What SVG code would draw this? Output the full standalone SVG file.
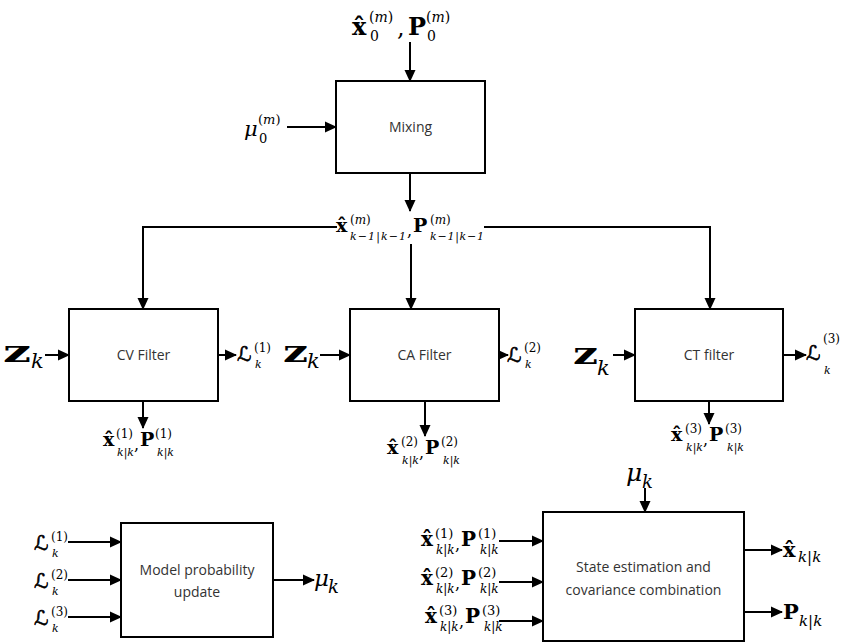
<svg xmlns="http://www.w3.org/2000/svg" width="848" height="644" viewBox="0 0 848 644">
<style>
.box{fill:#fff;stroke:#000;stroke-width:2}
.t{font-family:"Open Sans","Liberation Sans",sans-serif;font-size:14px;fill:#333;text-anchor:middle}
.m text{font-family:"DejaVu Serif","Liberation Serif",serif;fill:#000}
.m .b{font-weight:bold}
.m .i{font-style:italic}
.m .cal{font-family:"DejaVu Sans","DejaVu Serif",sans-serif;font-style:italic;stroke:#000;stroke-width:0.6}
.c{fill:none;stroke:#000;stroke-width:2}
</style>
<defs>
<marker id="ah" markerWidth="12" markerHeight="12" refX="11" refY="6" orient="auto" markerUnits="userSpaceOnUse">
<path d="M0,0.5 L12,6 L0,11.5 z" fill="#000"/>
</marker>
</defs>

<g id="connectors" class="c" marker-end="url(#ah)">
<path d="M410,42 V81"/>
<path d="M287,127 H336"/>
<path d="M410,173 V211"/>
<path d="M337,227 H143 V309"/>
<path d="M411,244 V309"/>
<path d="M484,227 H710 V309"/>
<path d="M45,355 H69"/>
<path d="M320,355 H350"/>
<path d="M613,355 H635"/>
<path d="M218,355 H236"/>
<path d="M499,355 H508"/>
<path d="M783,355 H806"/>
<path d="M143,401 V428"/>
<path d="M425,401 V436"/>
<path d="M709,401 V424"/>
<path d="M68,542 H121"/>
<path d="M68,580 H121"/>
<path d="M68,617 H121"/>
<path d="M273,580 H314"/>
<path d="M645,488 V512"/>
<path d="M499,541 H543"/>
<path d="M499,582 H543"/>
<path d="M499,621 H543"/>
<path d="M744,550 H782"/>
<path d="M744,612 H782"/>
</g>

<g id="mixing"><rect class="box" x="336" y="81" width="149" height="92"/><text class="t" x="410.5" y="132">Mixing</text></g>
<g id="cv"><rect class="box" x="69" y="309" width="149" height="92"/><text class="t" x="143.5" y="360">CV Filter</text></g>
<g id="ca"><rect class="box" x="350" y="309" width="149" height="92"/><text class="t" x="424.5" y="360">CA Filter</text></g>
<g id="ct"><rect class="box" x="635" y="309" width="148" height="92"/><text class="t" x="709" y="360">CT filter</text></g>
<g id="mpu"><rect class="box" x="121" y="523" width="152" height="114"/><text class="t" x="197" y="575">Model probability</text><text class="t" x="197" y="597">update</text></g>
<g id="se"><rect class="box" x="543" y="512" width="201" height="129"/><text class="t" x="643.5" y="572">State estimation and</text><text class="t" x="643.5" y="595">covariance combination</text></g>

<g id="lbl-init" class="m">
<text x="352" y="35" class="b" font-size="24">x&#x302;</text>
<text x="369" y="22" font-size="14">(<tspan class="i">m</tspan>)</text>
<text x="370" y="41" font-size="14">0</text>
<text x="397" y="36" font-size="24">,</text>
<text x="408" y="35" class="b" font-size="24">P</text>
<text x="426" y="22" font-size="14">(<tspan class="i">m</tspan>)</text>
<text x="427" y="41" font-size="14">0</text>
</g>
<g id="lbl-mu0" class="m">
<text x="244" y="136" class="i" font-size="21">μ</text>
<text x="258" y="124" font-size="13">(<tspan class="i">m</tspan>)</text>
<text x="259" y="143" font-size="13">0</text>
</g>
<g id="lbl-mixed" class="m">
<text x="336" y="232" class="b" font-size="19">x&#x302;</text>
<text x="350" y="224" font-size="12">(<tspan class="i">m</tspan>)</text>
<text x="350" y="240" class="i" font-size="11" textLength="56">k−1|k−1</text>
<text x="407" y="236" font-size="16">,</text>
<text x="413" y="232" class="b" font-size="19">P</text>
<text x="430" y="224" font-size="12">(<tspan class="i">m</tspan>)</text>
<text x="430" y="240" class="i" font-size="11" textLength="54">k−1|k−1</text>
</g>

<g id="lbl-z" class="m">
<text x="3" y="362" class="b" font-size="29" textLength="28" lengthAdjust="spacingAndGlyphs">z</text>
<text x="31" y="368" class="i" font-size="21">k</text>
<text x="283" y="362" class="b" font-size="29" textLength="25" lengthAdjust="spacingAndGlyphs">z</text>
<text x="307" y="368" class="i" font-size="21">k</text>
<text x="573" y="364" class="b" font-size="29" textLength="25" lengthAdjust="spacingAndGlyphs">z</text>
<text x="597" y="375" class="i" font-size="21">k</text>
</g>

<g id="lbl-L" class="m">
<text x="237" y="361" class="cal" font-size="20">ℒ</text>
<text x="254" y="352" font-size="12">(1)</text>
<text x="255" y="368" class="i" font-size="11">k</text>
<text x="507" y="362" class="cal" font-size="20">ℒ</text>
<text x="524" y="352" font-size="12">(2)</text>
<text x="525" y="368" class="i" font-size="11">k</text>
<text x="806" y="360" class="cal" font-size="20">ℒ</text>
<text x="823" y="343" font-size="12">(3)</text>
<text x="824" y="374" class="i" font-size="11">k</text>
</g>

<g id="lbl-out1" class="m">
<text x="103" y="446" class="b" font-size="19">x&#x302;</text>
<text x="116" y="438" font-size="12">(1)</text>
<text x="117" y="456" class="i" font-size="11">k|k</text>
<text x="134" y="450" font-size="16">,</text>
<text x="140" y="446" class="b" font-size="19">P</text>
<text x="155" y="438" font-size="12">(1)</text>
<text x="157" y="456" class="i" font-size="11">k|k</text>
</g>
<g id="lbl-out2" class="m">
<text x="387" y="454" class="b" font-size="19">x&#x302;</text>
<text x="401" y="446" font-size="12">(2)</text>
<text x="402" y="464" class="i" font-size="11">k|k</text>
<text x="419" y="458" font-size="16">,</text>
<text x="425" y="454" class="b" font-size="19">P</text>
<text x="441" y="446" font-size="12">(2)</text>
<text x="443" y="464" class="i" font-size="11">k|k</text>
</g>
<g id="lbl-out3" class="m">
<text x="671" y="441" class="b" font-size="19">x&#x302;</text>
<text x="685" y="433" font-size="12">(3)</text>
<text x="686" y="451" class="i" font-size="11">k|k</text>
<text x="703" y="445" font-size="16">,</text>
<text x="709" y="441" class="b" font-size="19">P</text>
<text x="725" y="433" font-size="12">(3)</text>
<text x="727" y="451" class="i" font-size="11">k|k</text>
</g>

<g id="lbl-mpu-in" class="m">
<text x="34" y="550" class="cal" font-size="20">ℒ</text>
<text x="51" y="541" font-size="12">(1)</text>
<text x="52" y="557" class="i" font-size="11">k</text>
<text x="34" y="588" class="cal" font-size="20">ℒ</text>
<text x="51" y="579" font-size="12">(2)</text>
<text x="52" y="595" class="i" font-size="11">k</text>
<text x="34" y="625" class="cal" font-size="20">ℒ</text>
<text x="51" y="616" font-size="12">(3)</text>
<text x="52" y="632" class="i" font-size="11">k</text>
</g>
<g id="lbl-mpu-out" class="m">
<text x="314" y="586" class="i" font-size="23">μ</text>
<text x="328" y="593" class="i" font-size="18">k</text>
</g>
<g id="lbl-se-mu" class="m">
<text x="626" y="481" class="i" font-size="25">μ</text>
<text x="642" y="488" class="i" font-size="18">k</text>
</g>

<g id="lbl-se-in" class="m">
<text x="421" y="546" class="b" font-size="20">x&#x302;</text>
<text x="435" y="538" font-size="13">(1)</text>
<text x="436" y="554" class="i" font-size="12">k|k</text>
<text x="455" y="550" font-size="16">,</text>
<text x="461" y="546" class="b" font-size="20">P</text>
<text x="478" y="538" font-size="13">(1)</text>
<text x="480" y="554" class="i" font-size="12">k|k</text>
<text x="421" y="585" class="b" font-size="20">x&#x302;</text>
<text x="435" y="577" font-size="13">(2)</text>
<text x="436" y="593" class="i" font-size="12">k|k</text>
<text x="455" y="589" font-size="16">,</text>
<text x="461" y="585" class="b" font-size="20">P</text>
<text x="478" y="577" font-size="13">(2)</text>
<text x="480" y="593" class="i" font-size="12">k|k</text>
<text x="425" y="623" class="b" font-size="20">x&#x302;</text>
<text x="439" y="615" font-size="13">(3)</text>
<text x="440" y="631" class="i" font-size="12">k|k</text>
<text x="459" y="627" font-size="16">,</text>
<text x="465" y="623" class="b" font-size="20">P</text>
<text x="482" y="615" font-size="13">(3)</text>
<text x="484" y="631" class="i" font-size="12">k|k</text>
</g>
<g id="lbl-se-out" class="m">
<text x="783" y="557" class="b" font-size="21">x&#x302;</text>
<text x="798" y="562" class="i" font-size="15">k|k</text>
<text x="783" y="619" class="b" font-size="21">P</text>
<text x="799" y="626" class="i" font-size="15">k|k</text>
</g>
</svg>
